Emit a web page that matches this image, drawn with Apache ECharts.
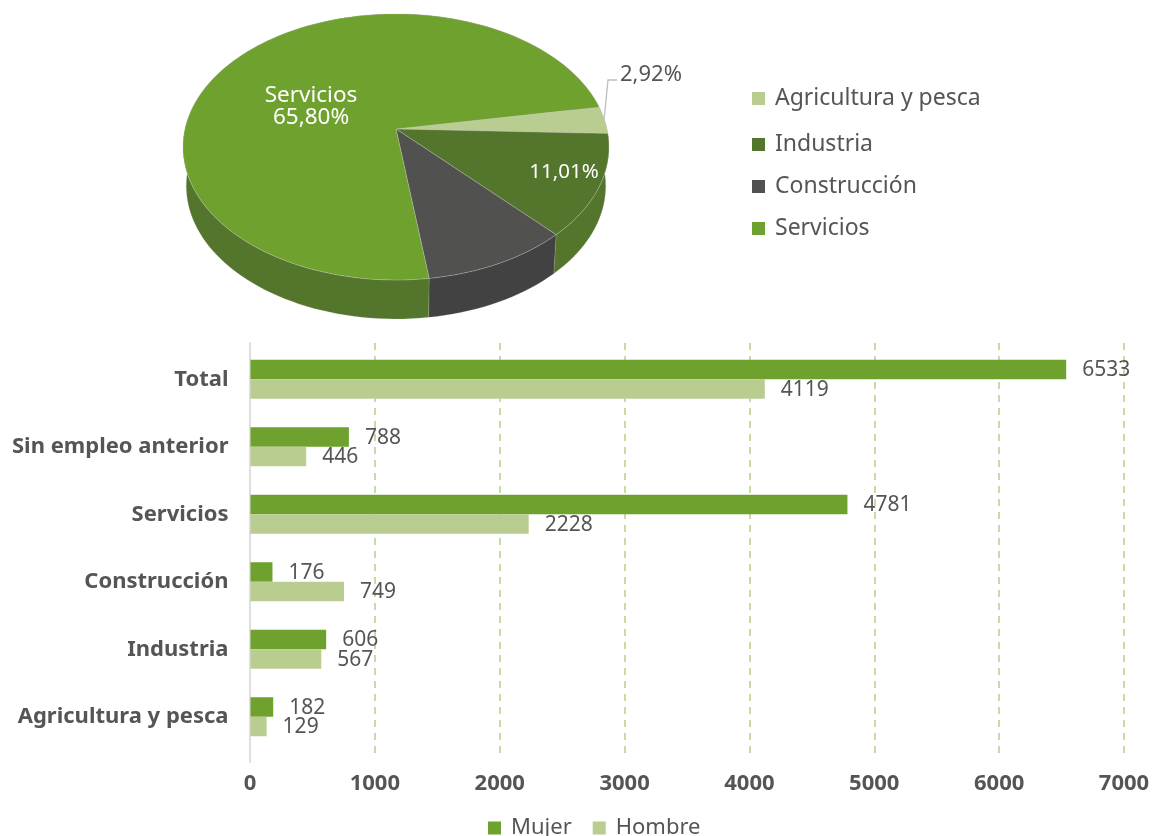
<!DOCTYPE html>
<html><head><meta charset="utf-8">
<style>html,body{margin:0;padding:0;background:#fff}#c{width:1153px;height:836px}</style>
<script src="https://cdn.jsdelivr.net/npm/echarts@6/dist/echarts.min.js"></script>
</head><body><div id="c"></div>
<script>
const categories = ['Total','Sin empleo anterior','Servicios','Construcción','Industria','Agricultura y pesca'];
const mujer = [6533,788,4781,176,606,182];
const hombre = [4119,446,2228,749,567,129];
const xTicks = {min:0,max:7000,interval:1000};
const pieNames = ['Agricultura y pesca','Industria','Construcción','Servicios'];
const pieValues = [311,1173,925,7009];
const pieLabels = ['2,92%','11,01%','','Servicios\n65,80%'];
const pieColors = ['#bacd91','#54762c','#515150','#6fa12e'];
const wallColors = ['#a9bb82','#54762c','#424242','#54762c'];

const FONT = '"Noto Sans"';
const TXT = '#555555';
const cx = 396, cy = 129, kx = 211, by = 130.6, persp = -0.135, depth = 39, startDeg = -9.9;
const total = pieValues.reduce((a,b)=>a+b,0);
function pt(deg, scale, dy){
  const r = deg*Math.PI/180, s = Math.cos(r), t = Math.sin(r), w = 1+persp*t;
  return [cx+kx*scale*s/w, cy+dy+by*t/w];
}
function arc(a0,a1,scale,dy){
  const n = Math.max(2,Math.ceil(Math.abs(a1-a0)/2)), p = [];
  for(let i=0;i<=n;i++) p.push(pt(a0+(a1-a0)*i/n,scale,dy));
  return p;
}
function angles(i){
  let a = startDeg;
  for(let j=0;j<i;j++) a += pieValues[j]/total*360;
  return [a, a+pieValues[i]/total*360];
}
const labelPos = [[620,75,'left',TXT,22],[564,172,'center','#ffffff',20.5],[0,0,'center','#fff',22],[311,107,'center','#ffffff',22.5]];
function topItem(i){
  return function(){
    const [a0,a1] = angles(i);
    const kids = [{type:'polygon',shape:{points:[[cx,cy]].concat(arc(a0,a1,1,0))},
      style:{fill:pieColors[i],stroke:'rgba(200,200,200,0.55)',lineWidth:0.6}}];
    if(pieLabels[i]){
      const l = labelPos[i];
      kids.push({type:'text',z2:10,style:{text:pieLabels[i],x:l[0],y:l[1],align:l[2],verticalAlign:'middle',
        fill:l[3],font:l[4]+'px '+FONT,lineHeight:22}});
    }
    if(i===0){
      kids.push({type:'polyline',z2:9,shape:{points:[[604,120],[608,80],[617,80]]},
        style:{stroke:'#bfbfbf',lineWidth:1.3,fill:null}});
    }
    return {type:'group',children:kids};
  };
}
function wallItem(p){
  const i = p.dataIndex, [a0,a1] = angles(i);
  const up = arc(a0,a1,1,0), low = arc(a0,a1,0.985,depth).reverse();
  return {type:'polygon',shape:{points:up.concat(low)},style:{fill:wallColors[i],stroke:'rgba(200,200,200,0.35)',lineWidth:0.5}};
}
const pieSeries = pieNames.map((n,i)=>({type:'custom',name:n,coordinateSystem:'none',silent:true,z:3,
  itemStyle:{color:pieColors[i]},data:[pieValues[i]],renderItem:topItem(i)}));
const wallSeries = {type:'custom',name:'__wall',coordinateSystem:'none',silent:true,z:2,data:pieValues,renderItem:wallItem};

const legendText = {color:TXT,fontFamily:FONT,fontSize:23,padding:[0,0,0,5]};
const barLegendText = {color:TXT,fontFamily:FONT,fontSize:22,padding:[0,0,0,5]};
const barLabel = {show:true,position:'right',distance:15,offset:[1,1],color:TXT,fontFamily:FONT,fontSize:21};
const opt = {
  animation:false,backgroundColor:'#fff',
  legend:[
    {orient:'vertical',left:752,top:87,padding:0,icon:'rect',itemWidth:13,itemHeight:13,selectedMode:false,textStyle:legendText,data:pieNames.slice(0,1)},
    {orient:'vertical',left:752,top:133,padding:0,icon:'rect',itemWidth:13,itemHeight:13,itemGap:19,selectedMode:false,textStyle:legendText,data:pieNames.slice(1)},
    {orient:'horizontal',left:488,top:817,padding:0,icon:'rect',itemWidth:13,itemHeight:13,itemGap:21,selectedMode:false,textStyle:barLegendText,data:['Mujer','Hombre']}
  ],
  grid:[
    {left:250.5,top:345.5,width:874,height:405},
    {left:250,top:343,width:874,height:413},
    {left:250,top:343,width:874,height:419}
  ],
  xAxis:[
    {gridIndex:0,type:'value',min:xTicks.min,max:xTicks.max,interval:xTicks.interval,show:false},
    {gridIndex:1,type:'value',min:xTicks.min,max:xTicks.max,interval:xTicks.interval,
      axisLine:{show:false},axisTick:{show:false},
      axisLabel:{color:TXT,fontFamily:FONT,fontSize:22,fontWeight:'bold',margin:17,showMaxLabel:true,formatter:v=>String(v)},
      splitLine:{show:true,showMinLine:false,lineStyle:{color:'#c8dba0',type:[7,6],width:2}}},
    {gridIndex:2,type:'value',min:xTicks.min,max:xTicks.max,interval:xTicks.interval,show:false}
  ],
  yAxis:[
    {gridIndex:0,type:'category',inverse:true,data:categories,axisLine:{show:false},axisTick:{show:false},
      axisLabel:{color:TXT,fontFamily:FONT,fontSize:22,fontWeight:'bold',margin:22}},
    {gridIndex:1,type:'category',data:[''],axisLine:{show:false},axisTick:{show:false},axisLabel:{show:false},splitLine:{show:false}},
    {gridIndex:2,type:'category',data:[''],axisTick:{show:false},axisLabel:{show:false},
      axisLine:{show:true,lineStyle:{color:'#dedede',width:2}},splitLine:{show:false}}
  ],
  series:[
    wallSeries,...pieSeries,
    {type:'bar',name:'Mujer',xAxisIndex:0,yAxisIndex:0,data:mujer,barWidth:19.5,barGap:'0%',z:3,
      itemStyle:{color:'#6fa12e'},label:barLabel},
    {type:'bar',name:'Hombre',xAxisIndex:0,yAxisIndex:0,data:hombre,barWidth:19.5,barGap:'0%',z:3,
      itemStyle:{color:'#bacd91'},label:barLabel}
  ]
};
echarts.init(document.getElementById('c'),null,{renderer:'canvas'}).setOption(opt);
</script></body></html>
